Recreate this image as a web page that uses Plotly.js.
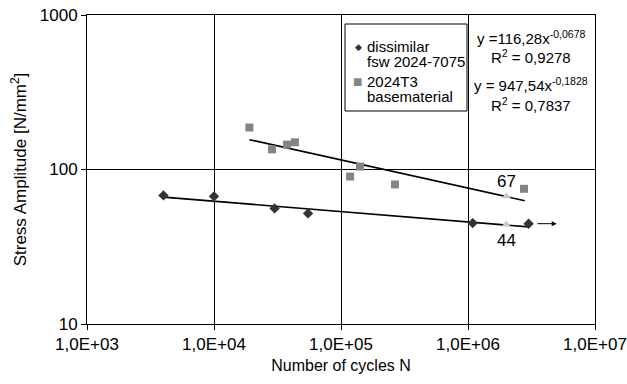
<!DOCTYPE html>
<html>
<head>
<meta charset="utf-8">
<script src="https://cdn.plot.ly/plotly-3.0.1.min.js"></script>
<style>html,body{margin:0;padding:0;background:#fff;}#chart{width:627px;height:384px;}</style>
</head>
<body>
<div id="chart"></div>
<script>
// dissimilar fsw 2024-7075
const fswCycles = [4000, 10000, 30000, 55000, 1090000, 3000000];
const fswStress = [68, 67, 56, 52, 45, 44.6];
// 2024T3 basematerial
const baseCycles = [19000, 28600, 37600, 43400, 118000, 141000, 266000, 2760000];
const baseStress = [187, 135, 145, 150, 90, 104.5, 80, 75];
// trend line end points
const fswTrendCycles = [4000, 3000000];
const fswTrendStress = [66.3, 42.5];
const baseTrendCycles = [19000, 2800000];
const baseTrendStress = [156, 62.8];
// values at 2E+06 cycles
const markCycles = [2000000, 2000000];
const markStress = [67, 44];
const markLabels = ['67', '44'];
// run-out arrow
const runoutFrom = [3430000, 44.6];
const runoutTo = [5000000, 44.6];
// tick labels
const xTickVals = [1e3, 1e4, 1e5, 1e6, 1e7];
const xTickText = ['1,0E+03', '1,0E+04', '1,0E+05', '1,0E+06', '1,0E+07'];
const yTickVals = [10, 100, 1000];
const yTickText = ['10', '100', '1000'];
const equations = ['y =116,28x<sup>-0,0678</sup>', 'R<sup>2</sup> = 0,9278', 'y = 947,54x<sup>-0,1828</sup>', 'R<sup>2</sup> = 0,7837'];
const legendNames = ['dissimilar', 'fsw 2024-7075', '2024T3', 'basematerial'];

const FONT = 'Liberation Sans, Arial, sans-serif';

const traces = [
  {x: fswTrendCycles, y: fswTrendStress, mode: 'lines', line: {color: '#000', width: 1.6}, showlegend: false, hoverinfo: 'skip'},
  {x: baseTrendCycles, y: baseTrendStress, mode: 'lines', line: {color: '#000', width: 1.6}, showlegend: false, hoverinfo: 'skip'},
  {x: markCycles, y: markStress, mode: 'markers', marker: {symbol: 'triangle-up', size: 8, color: '#c8c8c8'}, showlegend: false},
  {x: fswCycles, y: fswStress, mode: 'markers', marker: {symbol: 'diamond', size: 8, color: '#333333'}, showlegend: false},
  {x: baseCycles, y: baseStress, mode: 'markers', marker: {symbol: 'square', size: 8, color: '#858585'}, showlegend: false}
];

const plotL = 87, plotT = 15, plotW = 508, plotH = 309;
function px(x){ return (x - plotL) / plotW; }
function py(y){ return 1 - (y - plotT) / plotH; }

const annotations = [];
// equations
const eqY = [37, 57, 84, 104];
equations.forEach((t, i) => annotations.push({xref: 'paper', yref: 'paper', x: px(531), y: py(eqY[i]), text: t, showarrow: false, xanchor: 'center', yanchor: 'middle', font: {family: FONT, size: 15, color: '#000'}}));
// legend texts
const legY = [46, 62, 81, 97];
legendNames.forEach((t, i) => annotations.push({xref: 'paper', yref: 'paper', x: px(365), y: py(legY[i]), text: t, showarrow: false, xanchor: 'left', yanchor: 'middle', font: {family: FONT, size: 15, color: '#000'}}));
// legend symbols
annotations.push({xref: 'paper', yref: 'paper', x: px(358), y: py(47), text: '\u25C6', showarrow: false, xanchor: 'center', yanchor: 'middle', font: {family: 'DejaVu Sans', size: 9, color: '#333333'}});
annotations.push({xref: 'paper', yref: 'paper', x: px(357), y: py(81), text: '\u25A0', showarrow: false, xanchor: 'center', yanchor: 'middle', font: {family: 'DejaVu Sans', size: 10, color: '#858585'}});
// value labels
annotations.push({x: Math.log10(markCycles[0]), y: Math.log10(markStress[0]), text: markLabels[0], showarrow: false, yanchor: 'bottom', yshift: 3, font: {family: FONT, size: 17, color: '#000'}});
annotations.push({x: Math.log10(markCycles[1]), y: Math.log10(markStress[1]), text: markLabels[1], showarrow: false, yanchor: 'top', yshift: -4, font: {family: FONT, size: 17, color: '#000'}});
// run-out arrow
annotations.push({x: Math.log10(runoutTo[0]), y: Math.log10(runoutTo[1]), ax: Math.log10(runoutFrom[0]), ay: Math.log10(runoutFrom[1]), axref: 'x', ayref: 'y', text: '', showarrow: true, arrowhead: 2, arrowsize: 1, arrowwidth: 1, arrowcolor: '#000'});

const shapes = [
  {type: 'rect', xref: 'paper', yref: 'paper', x0: px(345), x1: px(467), y0: py(111), y1: py(24), line: {color: '#000', width: 1}, fillcolor: '#fff', layer: 'above'}
];

const axisCommon = {
  type: 'log', showline: true, mirror: true, linecolor: '#000', linewidth: 1,
  showgrid: true, gridcolor: '#000', gridwidth: 1, zeroline: false,
  ticks: 'outside', ticklen: 5, tickcolor: '#000', tickwidth: 1,
  tickfont: {family: FONT, size: 17, color: '#000'}, tickmode: 'array', fixedrange: true
};

const layout = {
  width: 627, height: 384,
  margin: {l: plotL, r: 627 - plotL - plotW, t: plotT, b: 384 - plotT - plotH, pad: 0},
  paper_bgcolor: '#fff', plot_bgcolor: '#fff',
  showlegend: false,
  xaxis: Object.assign({}, axisCommon, {range: [3, 7], tickvals: xTickVals, ticktext: xTickText,
    title: {text: 'Number of cycles N', font: {family: FONT, size: 16, color: '#000'}, standoff: 6}}),
  yaxis: Object.assign({}, axisCommon, {range: [1, 3], tickvals: yTickVals, ticktext: yTickText,
    title: {text: 'Stress Amplitude [N/mm<sup>2</sup>]', font: {family: FONT, size: 17, color: '#000'}, standoff: 8}}),
  annotations: annotations,
  shapes: shapes
};

Plotly.newPlot('chart', traces, layout, {displayModeBar: false, staticPlot: true});
</script>
</body>
</html>
